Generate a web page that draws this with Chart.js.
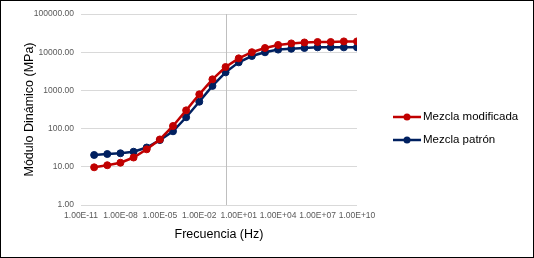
<!DOCTYPE html>
<html>
<head>
<meta charset="utf-8">
<script src="https://cdn.jsdelivr.net/npm/chart.js@4.4.1/dist/chart.umd.min.js"></script>
<style>
  body { margin: 0; background: #fff; }
  canvas { display: block; }
</style>
</head>
<body>
<canvas id="myChart" width="534" height="258"></canvas>
<script>
// frecuencias (Hz) de cada punto
const frecuencias = [1e-10, 1e-9, 1e-8, 1e-7, 1e-6, 1e-5, 1e-4, 1e-3, 1e-2, 1e-1, 1e0,
  1e1, 1e2, 1e3, 1e4, 1e5, 1e6, 1e7, 1e8, 1e9, 1e10];
const mezclaModificada = [9.7, 11, 12.8, 17.5, 28.7, 52, 117, 300, 790, 1950, 4100,
  6900, 10000, 12900, 15500, 17000, 18000, 18500, 18500, 19200, 19200];
const mezclaPatron = [20.4, 21.6, 22.6, 24.8, 32, 50, 85, 198, 505, 1310, 2970,
  5430, 7950, 9950, 11700, 12300, 12900, 13400, 13400, 13400, 13400];
const xTicks = [1e-11, 1e-8, 1e-5, 1e-2, 1e1, 1e4, 1e7, 1e10];
const yTicks = [1, 10, 100, 1000, 10000, 100000];

const tickFont = { family: 'Liberation Sans', size: 8.5 };
const tickColor = '#595959';

function fmtExp(v) {
  return Number(v).toExponential(2).toUpperCase().replace(/E([+-])(\d)$/, 'E$10$2');
}

// linea vertical en x = 1, borde y leyenda
const extras = {
  id: 'extras',
  beforeDatasetsDraw(chart) {
    const c = chart.ctx, a = chart.chartArea;
    const x = Math.round(chart.scales.x.getPixelForValue(1)) + 0.5;
    c.save();
    c.strokeStyle = '#bfbfbf';
    c.lineWidth = 1;
    c.beginPath();
    c.moveTo(x, a.top);
    c.lineTo(x, a.bottom);
    c.stroke();
    c.restore();
  },
  afterDraw(chart) {
    const c = chart.ctx;
    c.save();
    chart.data.datasets.forEach((ds, i) => {
      const y = 117 + i * 23;
      c.strokeStyle = ds.borderColor;
      c.lineWidth = 2.5;
      c.beginPath();
      c.moveTo(393, y);
      c.lineTo(421, y);
      c.stroke();
      c.fillStyle = ds.borderColor;
      c.beginPath();
      c.arc(407, y, 3.5, 0, Math.PI * 2);
      c.fill();
      c.fillStyle = '#000';
      c.font = '11.5px "Liberation Sans"';
      c.textBaseline = 'middle';
      c.fillText(ds.label, 423, y);
    });
    c.strokeStyle = '#000';
    c.lineWidth = 1;
    c.strokeRect(0.5, 0.5, 533, 257);
    c.restore();
  }
};

new Chart(document.getElementById('myChart'), {
  type: 'line',
  data: {
    datasets: [{
      label: 'Mezcla modificada',
      data: frecuencias.map((f, i) => ({ x: f, y: mezclaModificada[i] })),
      borderColor: '#c00000',
      backgroundColor: '#c00000',
      borderWidth: 2.5,
      pointRadius: 3.5,
      pointBorderWidth: 1,
      tension: 0
    }, {
      label: 'Mezcla patrón',
      data: frecuencias.map((f, i) => ({ x: f, y: mezclaPatron[i] })),
      borderColor: '#002060',
      backgroundColor: '#002060',
      borderWidth: 2.5,
      pointRadius: 3.5,
      pointBorderWidth: 1,
      tension: 0
    }]
  },
  options: {
    responsive: false,
    animation: false,
    layout: { padding: { left: 8, right: 177, top: 14, bottom: 8 } },
    plugins: { legend: { display: false }, tooltip: { enabled: false } },
    scales: {
      x: {
        type: 'logarithmic',
        min: 1e-11,
        max: 1e10,
        afterBuildTicks: s => { s.ticks = xTicks.map(v => ({ value: v })); },
        afterFit: s => { s.height = 45; },
        grid: { display: false, drawTicks: false },
        border: { display: false },
        ticks: {
          font: tickFont,
          color: tickColor,
          padding: 6,
          maxRotation: 0,
          autoSkip: false,
          callback: v => fmtExp(v)
        },
        title: {
          display: true,
          text: 'Frecuencia (Hz)',
          font: { family: 'Liberation Sans', size: 12.5 },
          color: '#000',
          padding: { top: 0, bottom: 8 }
        }
      },
      y: {
        type: 'logarithmic',
        min: 1,
        max: 100000,
        afterBuildTicks: s => { s.ticks = yTicks.map(v => ({ value: v })); },
        afterFit: s => { s.width = 73; },
        grid: { color: '#d9d9d9', drawTicks: false },
        border: { display: false },
        ticks: {
          font: tickFont,
          color: tickColor,
          padding: 7,
          autoSkip: false,
          callback: v => Number(v).toFixed(2)
        },
        title: {
          display: true,
          text: 'Módulo Dinámico (MPa)',
          font: { family: 'Liberation Sans', size: 12.5 },
          color: '#000',
          padding: { top: 14, bottom: 0 }
        }
      }
    }
  },
  plugins: [extras]
});
</script>
</body>
</html>
